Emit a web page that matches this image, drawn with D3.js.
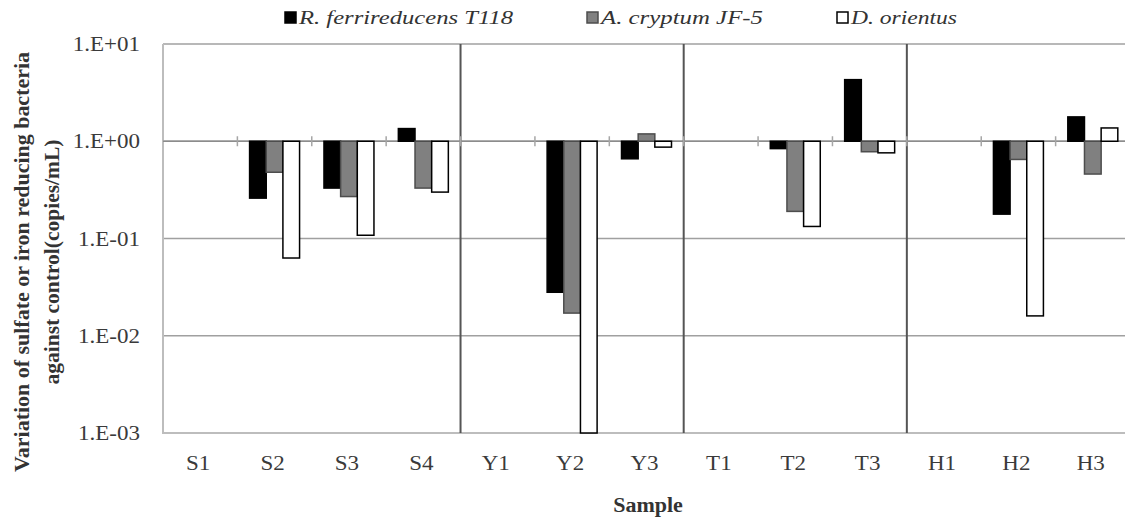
<!DOCTYPE html>
<html>
<head>
<meta charset="utf-8">
<script src="https://cdn.jsdelivr.net/npm/d3@7"></script>
<style>
  html, body { margin: 0; padding: 0; background: #fff; }
  svg { display: block; }
  text { font-family: "Liberation Serif", "Times New Roman", serif; }
</style>
</head>
<body>
<svg id="chart" width="1125" height="520"></svg>
<script>
// Sample sites
const samples = ["S1", "S2", "S3", "S4", "Y1", "Y2", "Y3", "T1", "T2", "T3", "H1", "H2", "H3"];

// Abundance relative to control (copies/mL); null = no bar
const rFerrireducens = [null, 0.26, 0.33, 1.35, null, 0.028, 0.66, null, 0.84, 4.3, null, 0.178, 1.78];
const aCryptum       = [null, 0.48, 0.27, 0.33, null, 0.0171, 1.19, null, 0.19, 0.78, null, 0.65, 0.46];
const dOrientus      = [null, 0.063, 0.108, 0.30, null, 0.001, 0.87, null, 0.133, 0.76, null, 0.016, 1.37];

const seriesNames = ["R. ferrireducens T118", "A. cryptum JF-5", "D. orientus"];
const yTickValues = [1e1, 1e0, 1e-1, 1e-2, 1e-3];
const yTickLabels = ["1.E+01", "1.E+00", "1.E-01", "1.E-02", "1.E-03"];
// Site groups begin at these samples
const groupStarts = ["Y1", "T1", "H1"];

const series = [
  { name: seriesNames[0], values: rFerrireducens, fill: "#000000", stroke: "#000000" },
  { name: seriesNames[1], values: aCryptum,       fill: "#808080", stroke: "#4d4d4d" },
  { name: seriesNames[2], values: dOrientus,      fill: "#ffffff", stroke: "#000000" }
];

const svg = d3.select("#chart");
const plot = { left: 163, right: 1130, top: 44, bottom: 433 };

const x = d3.scaleBand().domain(samples).range([plot.left, plot.right]).paddingInner(0).paddingOuter(0);
const y = d3.scaleLog().domain([1e-3, 1e1]).range([plot.bottom, plot.top]);

const bw = x.bandwidth();
const barW = bw * 0.224;
const groupW = barW * series.length;

// widen serif glyphs slightly
function stretch(sel, k) {
  sel.each(function () {
    const w = this.getComputedTextLength();
    d3.select(this).attr("textLength", w * k).attr("lengthAdjust", "spacingAndGlyphs");
  });
}

// gridlines at each decade
svg.append("g")
  .selectAll("line")
  .data(yTickValues)
  .join("line")
  .attr("x1", plot.left).attr("x2", plot.right)
  .attr("y1", d => y(d)).attr("y2", d => y(d))
  .attr("stroke", "#a0a0a0").attr("stroke-width", 1.5);

// plot area frame (left and bottom)
svg.append("path")
  .attr("d", `M${plot.left},${plot.top}V${plot.bottom}H${plot.right}`)
  .attr("fill", "none").attr("stroke", "#bdbdbd").attr("stroke-width", 2);

// vertical separators between site groups
svg.append("g")
  .selectAll("line")
  .data(groupStarts)
  .join("line")
  .attr("x1", d => x(d)).attr("x2", d => x(d))
  .attr("y1", plot.top).attr("y2", plot.bottom)
  .attr("stroke", "#555").attr("stroke-width", 2);

// category axis crossing at 1.E+00 with ticks at band boundaries
const yOne = y(1);
svg.append("line")
  .attr("x1", plot.left).attr("x2", plot.right)
  .attr("y1", yOne).attr("y2", yOne)
  .attr("stroke", "#8c8c8c").attr("stroke-width", 1.5);
svg.append("g")
  .selectAll("line")
  .data(samples.slice(1))
  .join("line")
  .attr("x1", d => x(d)).attr("x2", d => x(d))
  .attr("y1", yOne - 5).attr("y2", yOne + 5)
  .attr("stroke", "#a6a6a6").attr("stroke-width", 1.5);

// bars grow from 1.E+00 toward each value
series.forEach((s, si) => {
  svg.append("g")
    .selectAll("rect")
    .data(samples.map((k, i) => ({ k, v: s.values[i] })).filter(d => d.v != null))
    .join("rect")
    .attr("x", d => x(d.k) + bw / 2 - groupW / 2 + si * barW)
    .attr("width", barW)
    .attr("y", d => Math.min(y(d.v), yOne))
    .attr("height", d => Math.abs(y(d.v) - yOne))
    .attr("fill", s.fill)
    .attr("stroke", s.stroke)
    .attr("stroke-width", 1.5);
});

// y tick labels
svg.append("g")
  .selectAll("text")
  .data(yTickValues)
  .join("text")
  .attr("x", 140)
  .attr("y", d => y(d))
  .attr("dy", "0.35em")
  .attr("text-anchor", "end")
  .attr("font-size", 20)
  .attr("fill", "#3a3a3a")
  .text((d, i) => yTickLabels[i])
  .call(stretch, 1.15);

// x category labels
svg.append("g")
  .selectAll("text")
  .data(samples)
  .join("text")
  .attr("x", d => x(d) + bw / 2 - 2)
  .attr("y", 470)
  .attr("text-anchor", "middle")
  .attr("font-size", 20)
  .attr("fill", "#3a3a3a")
  .text(d => d)
  .call(stretch, 1.15);

// axis titles
svg.append("text")
  .attr("x", 648).attr("y", 512)
  .attr("text-anchor", "middle")
  .attr("font-size", 20).attr("font-weight", "bold").attr("fill", "#333")
  .text("Sample")
  .call(stretch, 1.1);

const yTitle = svg.append("text")
  .attr("transform", "translate(0,262) rotate(-90)")
  .attr("text-anchor", "middle")
  .attr("font-size", 21).attr("font-weight", "bold").attr("fill", "#333");
yTitle.append("tspan").attr("x", 0).attr("y", 29)
  .attr("textLength", 420).attr("lengthAdjust", "spacingAndGlyphs")
  .text("Variation of sulfate or iron reducing bacteria");
yTitle.append("tspan").attr("x", 0).attr("y", 59)
  .attr("textLength", 245).attr("lengthAdjust", "spacingAndGlyphs")
  .text("against control(copies/mL)");

// legend
const legendItems = [
  { s: series[0], x: 285, len: 214 },
  { s: series[1], x: 587, len: 162 },
  { s: series[2], x: 837, len: 106 }
];
const lg = svg.append("g").selectAll("g").data(legendItems).join("g")
  .attr("transform", d => `translate(${d.x},18)`);
lg.append("rect")
  .attr("x", 0).attr("y", -6).attr("width", 11).attr("height", 11)
  .attr("fill", d => d.s.fill).attr("stroke", d => d.s.stroke).attr("stroke-width", 1.5);
lg.append("text")
  .attr("x", 14).attr("y", 0).attr("dy", "0.35em")
  .attr("font-size", 18).attr("font-style", "italic").attr("fill", "#333")
  .attr("textLength", d => d.len).attr("lengthAdjust", "spacingAndGlyphs")
  .text(d => d.s.name);
</script>
</body>
</html>
